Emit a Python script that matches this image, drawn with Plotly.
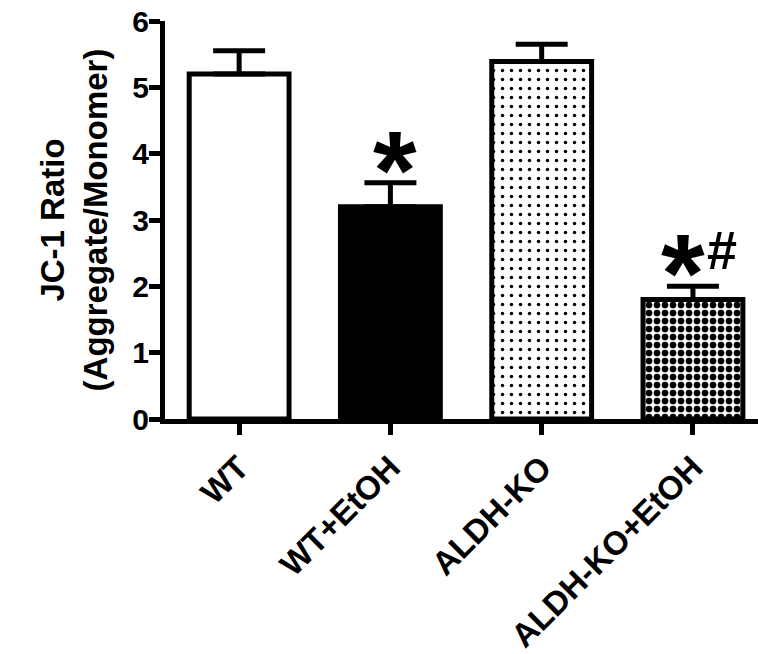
import plotly.graph_objects as go

categories = ["WT", "WT+EtOH", "ALDH-KO", "ALDH-KO+EtOH"]
means = [5.20, 3.20, 5.39, 1.80]
sem = [0.35, 0.36, 0.26, 0.20]
fill_colors = ["white", "black", "white", "white"]
pattern_shapes = ["", "", ".", "."]
pattern_sizes = [8, 8, 9, 8]
pattern_solidity = [0.2, 0.2, 0.12, 0.55]
y_ticks = [0, 1, 2, 3, 4, 5, 6]
y_title = "JC-1 Ratio<br>(Aggregate/Monomer)"
sig_star_cats = ["WT+EtOH", "ALDH-KO+EtOH"]
sig_hash_cats = ["ALDH-KO+EtOH"]

FONT = "Liberation Sans, Arial, sans-serif"

fig = go.Figure()
for cat, m, s, col, shp, sz, sol in zip(categories, means, sem, fill_colors,
                                         pattern_shapes, pattern_sizes, pattern_solidity):
    pattern = dict(shape=shp, size=sz, solidity=sol, fgcolor="black",
                   bgcolor="white", fillmode="replace") if shp else None
    marker = dict(color=col, line=dict(color="black", width=5))
    if pattern:
        marker["pattern"] = pattern
    fig.add_trace(go.Bar(
        x=[cat], y=[m], width=0.66, name=cat, marker=marker,
        error_y=dict(type="data", array=[s], arrayminus=[0], symmetric=False,
                     color="black", thickness=5, width=26),
        showlegend=False,
    ))

top = {c: m + s for c, m, s in zip(categories, means, sem)}
for c in sig_star_cats:
    fig.add_annotation(x=c, y=top[c], xref="x", yref="y", text="*", showarrow=False,
                       yanchor="bottom", xanchor="center", yshift=-52,
                       xshift=(5 if c not in sig_hash_cats else -10),
                       font=dict(family=FONT, size=112, color="black", weight="bold"))
for c in sig_hash_cats:
    fig.add_annotation(x=c, y=top[c], xref="x", yref="y", text="#", showarrow=False,
                       yanchor="bottom", xanchor="center", yshift=4, xshift=29,
                       font=dict(family=FONT, size=54, color="black", weight="bold"))

fig.update_layout(
    width=758, height=654,
    barmode="overlay",
    margin=dict(l=165, r=0, t=21, b=229),
    paper_bgcolor="white", plot_bgcolor="white",
    font=dict(family=FONT, size=30, color="black", weight="bold"),
    xaxis=dict(
        range=[-0.49, 3.43], showline=True, linecolor="black", linewidth=5,
        ticks="outside", ticklen=11, tickwidth=5, tickcolor="black",
        tickangle=-45, showgrid=False, zeroline=False,
        tickfont=dict(family=FONT, size=33, weight="bold"),
    ),
    yaxis=dict(
        range=[0, 6], tickvals=y_ticks, showline=True, linecolor="black", linewidth=5,
        ticks="outside", ticklen=11, tickwidth=5, tickcolor="black",
        showgrid=False, zeroline=False, ticklabelstandoff=-6,
        tickfont=dict(family=FONT, size=30, weight="bold"),
        title=dict(text=y_title, font=dict(family=FONT, size=33, weight="bold"), standoff=16),
    ),
)

fig.write_html("out.html")
